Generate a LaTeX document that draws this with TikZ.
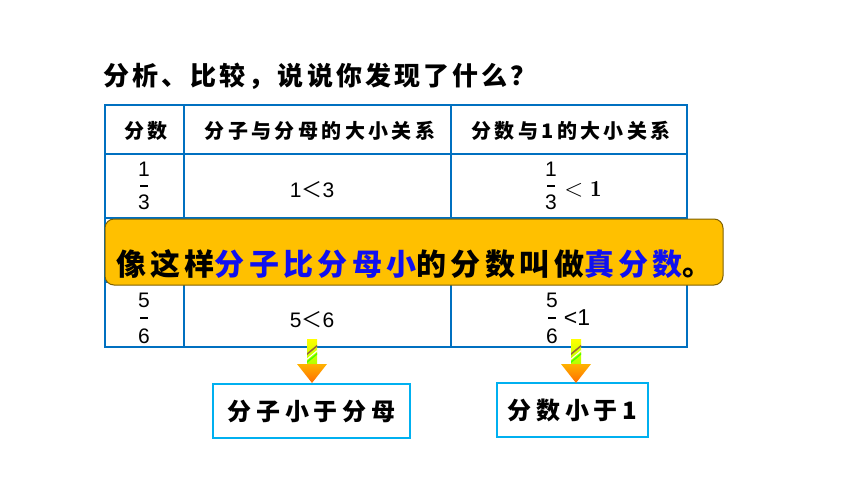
\documentclass[tikz,border=0pt]{standalone}
\usepackage{fontspec}
\setsansfont{Liberation Sans}
\newfontfamily\cjk{Noto Sans CJK SC}
\definecolor{tblue}{HTML}{0070C0}
\definecolor{boxblue}{HTML}{00B0F0}
\definecolor{gold}{HTML}{FFC000}
\definecolor{goldedge}{HTML}{7F6000}
\definecolor{mark}{HTML}{1010F0}
% block arrow, tip at #1
\newcommand\blockarr[1]{%
  \begin{scope}[shift={#1}]
    \shade[top color=yellow,bottom color=yellow!70!green] (-5,-44) rectangle (5,-19);
    \begin{scope}
      \clip (-5,-44) rectangle (5,-19);
      \draw[brown!80!black,line width=1.5pt] (-6,-28) -- (6,-38);
      \draw[white,line width=1pt] (-6,-23) -- (6,-33);
      \draw[green!70!yellow,line width=1.5pt] (-6,-20) -- (6,-30);
    \end{scope}
    \shade[top color=orange!60!yellow,bottom color=orange!85!red] (-15,-19) -- (15,-19) -- (0,0) -- cycle;
  \end{scope}}
\begin{document}
\begin{tikzpicture}[x=1pt,y=-1pt]
  \tikzstyle{grid}=[draw=tblue,line width=1.5pt]
  \tikzstyle{ttl}=[font=\cjk\bfseries\fontsize{26}{26}\selectfont\addfontfeature{LetterSpace=12},anchor=west,inner sep=0pt]
  \tikzstyle{head}=[font=\cjk\bfseries\fontsize{20}{20}\selectfont\addfontfeature{LetterSpace=17},inner sep=0pt]
  \tikzstyle{num}=[font=\sffamily\fontsize{21}{21}\selectfont,inner sep=0pt]
  \tikzstyle{bar}=[line width=1.2pt]
  \tikzstyle{banner}=[draw=goldedge,fill=gold,line width=1pt,rounded corners=9pt,minimum width=618pt,minimum height=66pt]
  \tikzstyle{bantext}=[font=\cjk\bfseries\fontsize{30}{30}\selectfont\addfontfeature{LetterSpace=14.5},anchor=west,inner sep=0pt]
  \tikzstyle{result}=[draw=boxblue,line width=1.5pt,minimum height=54pt,font=\cjk\bfseries\fontsize{24}{24}\selectfont\addfontfeature{LetterSpace=20}]
  \useasboundingbox (0,0) rectangle (860,484);
  \node[ttl] (title) at (103,76) {分析、比较，说说你发现了什么？};
  % table
  \draw[grid] (105,105) rectangle (687,347);
  \draw[grid] (105,154) -- (687,154);
  \draw[grid] (105,218) -- (687,218);
  \draw[grid] (105,282) -- (687,282);
  \draw[grid] (184,105) -- (184,347);
  \draw[grid] (451,105) -- (451,347);
  \node[head] (h1) at (146,131) {分数};
  \node[head] (h2) at (320,131) {分子与分母的大小关系};
  \node[head] (h3) at (571,131) {分数与1的大小关系};
  % row 1
  \node[num] (n1) at (144,169) {1};
  \node[num] (d1) at (144,202) {3};
  \draw[bar] (140,186) -- (148,186);
  \node[num] (c1) at (312,190) {1{\cjk ＜}3};
  \node[num] (n2) at (551,169) {1};
  \node[num] (d2) at (551,202) {3};
  \draw[bar] (547,186) -- (555,186);
  \node[font=\fontsize{23}{23}\selectfont,inner sep=0pt] (r1) at (583,189) {$<\mathbf{1}$};
  % row 3
  \node[num] (n3) at (144,300) {5};
  \node[num] (d3) at (144,336) {6};
  \draw[bar] (140,318) -- (148,318);
  \node[num] (c3) at (312,320) {5{\cjk ＜}6};
  \node[num] (n4) at (552,300) {5};
  \node[num] (d4) at (552,336) {6};
  \draw[bar] (548,318) -- (556,318);
  \node[num,font=\sffamily\fontsize{23}{23}\selectfont] (r3) at (577,318) {<1};
  % banner
  \node[banner] (ban) at (414,252) {};
  \node[bantext] (bantxt) at (116,264) {像这样{\color{mark}分子比分母小}的分数叫做{\color{mark}真分数}。};
  % results
  \node[result,minimum width=197pt] (b1) at (311.5,411) {分子小于分母};
  \node[result,minimum width=151pt] (b2) at (572.5,410) {分数小于1};
  \blockarr{(312,383)}
  \blockarr{(576,383)}
\end{tikzpicture}
\end{document}
